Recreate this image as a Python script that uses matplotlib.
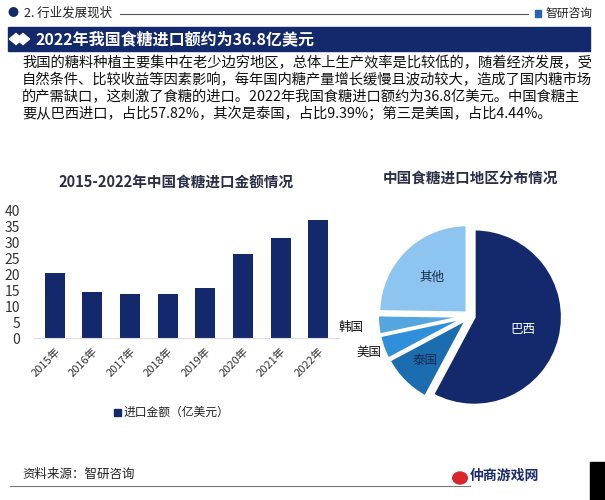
import numpy as np
import matplotlib.pyplot as plt
from matplotlib.patches import Rectangle, Circle, RegularPolygon
from matplotlib.lines import Line2D

plt.rcParams['font.family'] = ['Noto Sans CJK SC', 'DejaVu Sans']

# data
years = ["2015年", "2016年", "2017年", "2018年", "2019年", "2020年", "2021年", "2022年"]
import_value = [20.4, 14.4, 13.8, 13.8, 15.7, 26.2, 31.3, 36.8]

regions = ["巴西", "泰国", "美国", "韩国", "其他"]
region_share = [57.82, 9.39, 4.44, 3.6, 24.75]

paragraph = [
    "我国的糖料种植主要集中在老少边穷地区，总体上生产效率是比较低的，随着经济发展，受",
    "自然条件、比较收益等因素影响，每年国内糖产量增长缓慢且波动较大，造成了国内糖市场",
    "的产需缺口，这刺激了食糖的进口。2022年我国食糖进口额约为36.8亿美元。中国食糖主",
    "要从巴西进口，占比57.82%，其次是泰国，占比9.39%；第三是美国，占比4.44%。",
]

NAVY = "#13296b"
W, H = 605, 500

fig = plt.figure(figsize=(W / 100, H / 100), dpi=100, facecolor="white")


def fx(x):
    return x / W


def fy(y):
    return 1 - y / H


def box(x0, y0, x1, y1):
    # pixel box (top-left origin) -> figure rect
    return [fx(x0), fy(y1), (x1 - x0) / W, (y1 - y0) / H]


# header row
fig.text(fx(8), fy(13), "●", fontsize=8, color=NAVY, va="center")
fig.text(fx(24), fy(13), "2. 行业发展现状", fontsize=9, color="#222222", va="center")
fig.add_artist(Line2D([fx(120), fx(528)], [fy(14), fy(14)], color="#555555", lw=0.8))
fig.add_artist(Rectangle((fx(535), fy(17)), 6 / W, 7 / H, color="#2a63b0"))
fig.text(fx(545), fy(13), "智研咨询", fontsize=8.5, color="#222222", va="center")

# title banner
fig.add_artist(Rectangle((fx(8), fy(51)), 582 / W, 24 / H, color=NAVY))
for dx in (0, 7):
    fig.add_artist(RegularPolygon((fx(16 + dx), fy(39)), 4, radius=0.011,
                                  color="white", transform=fig.transFigure))
fig.text(fx(36), fy(39), "2022年我国食糖进口额约为36.8亿美元", fontsize=11.5,
         fontweight="bold", color="white", va="center")

# paragraph
for i, line in enumerate(paragraph):
    fig.text(fx(22), fy(63 + i * 17), line, fontsize=10.3, color="#111111", va="center")

# bar chart
ax = fig.add_axes(box(34, 210, 339, 338))
x = np.arange(len(years))
ax.bar(x, import_value, width=0.53, color=NAVY, zorder=2)
ax.set_xlim(-0.55, len(years) - 0.45)
ax.set_ylim(0, 40)
ax.set_yticks(range(0, 41, 5))
ax.set_xticks(x)
ax.set_xticklabels(years, rotation=45, ha="right", rotation_mode="anchor",
                   fontsize=8, color="#333333")
ax.tick_params(axis="y", labelsize=10, colors="#333333", length=0, pad=10)
ax.tick_params(axis="x", length=0, pad=6)
for s in ["top", "right", "left"]:
    ax.spines[s].set_visible(False)
ax.spines["bottom"].set_color("#dddddd")
ax.patch.set_alpha(0)

fig.text(fx(176), fy(183), "2015-2022年中国食糖进口金额情况", fontsize=10.5,
         fontweight="bold", color="#2a2f45", ha="center", va="center")
fig.add_artist(Rectangle((fx(114), fy(416)), 7 / W, 7 / H, color=NAVY))
fig.text(fx(124), fy(412), "进口金额（亿美元）", fontsize=8.5, color="#222222", va="center")

# pie chart
pie_colors = [NAVY, "#1b6db0", "#2f8fd8", "#55a5e0", "#8ec5f0"]
R = 88
pax = fig.add_axes(box(470 - 1.3 * R, 316 - 1.3 * R, 470 + 1.3 * R, 316 + 1.3 * R))
wedges, _ = pax.pie(region_share, colors=pie_colors, startangle=90, counterclock=False,
                    explode=[0.05] * len(regions),
                    wedgeprops=dict(edgecolor="white", linewidth=2))
pax.set_xlim(-1.3, 1.3)
pax.set_ylim(-1.3, 1.3)
pax.set_aspect("equal")
pax.axis("off")

label_r = [0.62, 0.72, 1.22, 1.36, 0.62]
label_c = ["white", "#1a2a50", "#111111", "#111111", "#1a2a50"]
for w, name, r, c in zip(wedges, regions, label_r, label_c):
    ang = np.deg2rad((w.theta1 + w.theta2) / 2)
    pax.text(r * np.cos(ang), r * np.sin(ang), name, fontsize=9, color=c,
             ha="center", va="center")

fig.text(fx(470), fy(178), "中国食糖进口地区分布情况", fontsize=10.5,
         fontweight="bold", color="#2a2f45", ha="center", va="center")

# footer
fig.text(fx(22), fy(474), "资料来源：智研咨询", fontsize=9, color="#222222", va="center")
fig.add_artist(Line2D([fx(10), fx(470)], [fy(486), fy(486)], color="#777777", lw=0.8))
fig.add_artist(Circle((fx(460), fy(478)), 0.012, color="#d9262b", transform=fig.transFigure))
fig.text(fx(470), fy(476), "仲商游戏网", fontsize=10, fontweight="bold", color="#1a2a6c",
         va="center")
fig.add_artist(Rectangle((fx(590), fy(500)), 15 / W, 38 / H, color="black"))

fig.savefig("out.png", dpi=100, facecolor="white")
